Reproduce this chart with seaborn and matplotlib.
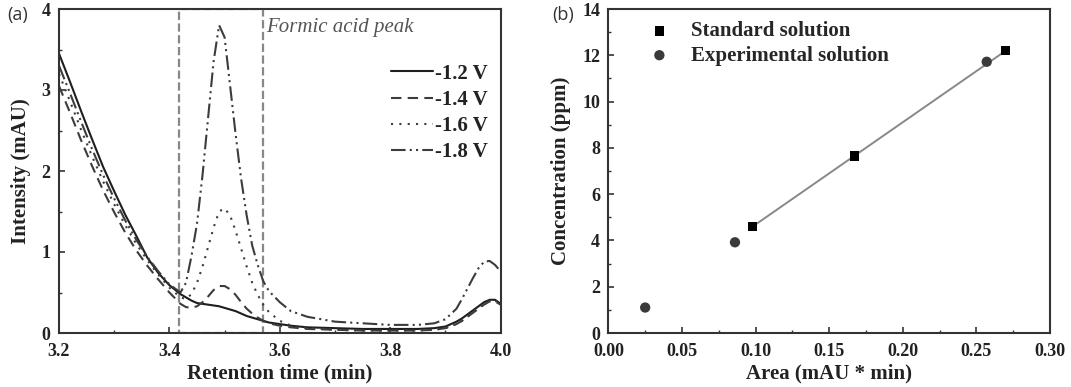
import numpy as np
import pandas as pd
import matplotlib
matplotlib.use('Agg')
import matplotlib.pyplot as plt
import seaborn as sns
from matplotlib.ticker import MultipleLocator

# chromatogram data
ret_time = [3.20, 3.22, 3.24, 3.26, 3.28, 3.30, 3.32, 3.34, 3.36, 3.38, 3.40,
            3.42, 3.43, 3.44, 3.45, 3.46, 3.47, 3.48, 3.49, 3.50, 3.51, 3.52,
            3.53, 3.54, 3.55, 3.56, 3.57, 3.58, 3.60, 3.62, 3.65, 3.70, 3.75,
            3.80, 3.85, 3.88, 3.90, 3.92, 3.93, 3.94, 3.95, 3.96, 3.97, 3.98,
            3.99, 4.00]
int_12 = [3.45, 3.10, 2.74, 2.39, 2.05, 1.75, 1.46, 1.20, 0.93, 0.74, 0.59,
          0.48, 0.44, 0.40, 0.37, 0.36, 0.35, 0.34, 0.33, 0.31, 0.29, 0.27,
          0.24, 0.21, 0.19, 0.17, 0.15, 0.13, 0.11, 0.09, 0.07, 0.06, 0.05,
          0.05, 0.05, 0.06, 0.08, 0.14, 0.18, 0.23, 0.28, 0.33, 0.38, 0.41,
          0.41, 0.36]
int_14 = [3.05, 2.72, 2.38, 2.06, 1.76, 1.49, 1.24, 1.02, 0.83, 0.66, 0.50,
          0.36, 0.32, 0.31, 0.33, 0.38, 0.45, 0.53, 0.58, 0.58, 0.54, 0.47,
          0.38, 0.30, 0.24, 0.19, 0.15, 0.12, 0.09, 0.07, 0.05, 0.04, 0.03,
          0.03, 0.03, 0.04, 0.06, 0.11, 0.15, 0.20, 0.25, 0.30, 0.35, 0.39,
          0.39, 0.35]
int_16 = [3.20, 2.86, 2.51, 2.18, 1.87, 1.59, 1.33, 1.10, 0.90, 0.72, 0.56,
          0.44, 0.42, 0.48, 0.62, 0.82, 1.06, 1.30, 1.50, 1.54, 1.45, 1.26,
          1.04, 0.82, 0.62, 0.47, 0.35, 0.26, 0.15, 0.09, 0.06, 0.04, 0.03,
          0.03, 0.03, 0.04, 0.06, 0.11, 0.15, 0.20, 0.26, 0.31, 0.36, 0.40,
          0.40, 0.36]
int_18 = [3.30, 2.96, 2.61, 2.27, 1.95, 1.66, 1.39, 1.15, 0.94, 0.76, 0.60,
          0.50, 0.62, 0.95, 1.35, 1.95, 2.65, 3.35, 3.80, 3.65, 3.05, 2.45,
          1.90, 1.45, 1.08, 0.84, 0.64, 0.52, 0.38, 0.27, 0.20, 0.14, 0.12,
          0.10, 0.10, 0.12, 0.17, 0.30, 0.42, 0.55, 0.68, 0.80, 0.88, 0.89,
          0.84, 0.76]
potentials = ['-1.2 V', '-1.4 V', '-1.6 V', '-1.8 V']

# calibration data
std_area = [0.098, 0.167, 0.270]
std_conc = [4.60, 7.65, 12.20]
exp_area = [0.025, 0.086, 0.257]
exp_conc = [1.10, 3.92, 11.72]

sns.set_theme(style='ticks')
plt.rcParams['font.family'] = ['Liberation Serif', 'DejaVu Serif']
plt.rcParams['font.weight'] = 'bold'
plt.rcParams['axes.labelweight'] = 'bold'
plt.rcParams['xtick.direction'] = 'in'
plt.rcParams['ytick.direction'] = 'in'

fig, (ax1, ax2) = plt.subplots(1, 2, figsize=(10.71, 3.87), dpi=100)
fig.subplots_adjust(left=59/1071, right=1050/1071, top=1-9/387,
                    bottom=1-333/387, wspace=0.244)

# --- (a) chromatograms
styles = ['-', (0, (5, 3)), (0, (1, 3)), (0, (7, 2, 1, 2, 1, 2))]
colors = ['#1e1e1e', '#3c3c3c', '#3c3c3c', '#3c3c3c']
for vals, lab, ls, c in zip([int_12, int_14, int_16, int_18], potentials, styles, colors):
    sns.lineplot(x=ret_time, y=vals, ax=ax1, color=c, linestyle=ls, lw=1.5,
                 label=lab)

ax1.axvspan(3.418, 3.569, ymin=0, ymax=1, fill=False, ls='--', ec='#888888',
            lw=1.6, zorder=1)
ax1.text(3.575, 3.72, 'Formic acid peak', style='italic', fontweight='normal',
         fontsize=15, color='#555555')

ax1.set_xlim(3.2, 4.0)
ax1.set_ylim(0, 4)
ax1.xaxis.set_major_locator(MultipleLocator(0.2))
ax1.xaxis.set_minor_locator(MultipleLocator(0.1))
ax1.yaxis.set_major_locator(MultipleLocator(1))
ax1.yaxis.set_minor_locator(MultipleLocator(0.5))
ax1.set_xlabel('Retention time (min)', fontsize=15, labelpad=3)
ax1.set_ylabel('Intensity (mAU)', fontsize=15, labelpad=8)
leg1 = ax1.legend(loc='upper right', bbox_to_anchor=(1.0, 0.87), frameon=False,
                  fontsize=15, handlelength=2.0, handletextpad=0.1,
                  labelspacing=0.3, borderaxespad=0.2)
for t in leg1.get_texts():
    t.set_color('#222222')

# --- (b) calibration
sns.regplot(x=std_area, y=std_conc, ax=ax2, scatter=False, ci=None,
            color='#888888', line_kws=dict(lw=1.4))
sns.scatterplot(x=std_area, y=std_conc, ax=ax2, marker='s', color='black',
                s=45, edgecolor='none', label='Standard solution', zorder=3)
sns.scatterplot(x=exp_area, y=exp_conc, ax=ax2, marker='o', color='#3a3a3a',
                s=55, edgecolor='none', label='Experimental solution', zorder=3)

ax2.set_xlim(0, 0.30)
ax2.set_ylim(0, 14)
ax2.xaxis.set_major_locator(MultipleLocator(0.05))
ax2.xaxis.set_minor_locator(MultipleLocator(0.025))
ax2.yaxis.set_major_locator(MultipleLocator(2))
ax2.yaxis.set_minor_locator(MultipleLocator(1))
ax2.xaxis.set_major_formatter(plt.FormatStrFormatter('%.2f'))
ax2.set_xlabel('Area (mAU * min)', fontsize=15, labelpad=3)
ax2.set_ylabel('Concentration (ppm)', fontsize=15, labelpad=8)
ax2.legend(loc='upper left', bbox_to_anchor=(0.04, 1.0), frameon=False,
           fontsize=15, handletextpad=0.5, labelspacing=0.2,
           borderaxespad=0.2)

for ax in (ax1, ax2):
    for sp in ax.spines.values():
        sp.set_visible(True)
        sp.set_color('#333333')
        sp.set_linewidth(1.5)
    ax.tick_params(which='major', length=4, width=1.2, colors='#333333',
                   labelsize=13, labelcolor='#222222')
    ax.tick_params(axis='x', which='major', pad=7)
    ax.tick_params(axis='y', which='major', pad=6)
    ax.tick_params(which='minor', length=2.5, width=1.0, colors='#333333')
    ax.tick_params(top=False, right=False, which='both')
    ax.xaxis.label.set_color('#222222')
    ax.yaxis.label.set_color('#222222')

fig.text(7/1071, 1-15/387, '(a)', family=['Open Sans', 'DejaVu Sans'],
         fontweight='normal', fontsize=13, va='center', color='#333333')
fig.text(552/1071, 1-15/387, '(b)', family=['Open Sans', 'DejaVu Sans'],
         fontweight='normal', fontsize=13, va='center', color='#333333')

fig.savefig('out.png', dpi=100)
